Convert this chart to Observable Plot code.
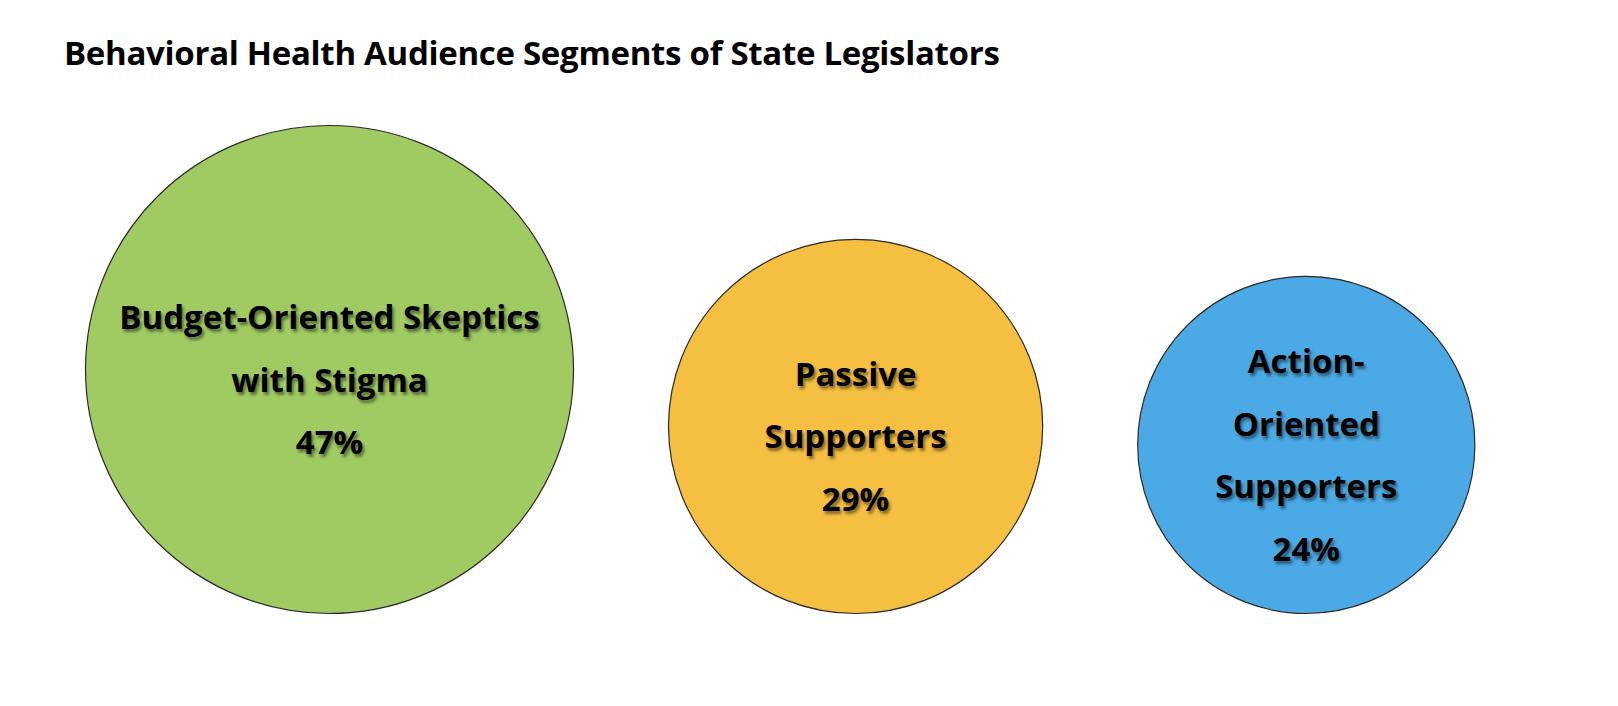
<!DOCTYPE html>
<html>
<head>
<meta charset="utf-8">
<script src="https://cdn.jsdelivr.net/npm/d3@7"></script>
<script src="https://cdn.jsdelivr.net/npm/@observablehq/plot@0.6"></script>
<style>
  html, body { margin: 0; padding: 0; background: #ffffff; }
  #title {
    font-family: "Open Sans", sans-serif;
    font-weight: 700;
    font-size: 33px;
    line-height: 33px;
    color: #000;
    padding: 36px 0 0 64px;
    height: 54px;
    letter-spacing: -0.3px;
  }
  #chart svg text { text-shadow: 2px 3px 3px rgba(0,0,0,0.45); }
</style>
</head>
<body>
<div id="title">Behavioral Health Audience Segments of State Legislators</div>
<div id="chart"></div>
<script>
// ---- data ----
const categories = ["Budget-Oriented Skeptics\nwith Stigma", "Passive\nSupporters", "Action-\nOriented\nSupporters"];
const values = [47, 29, 24];
const colors = ["#A0CB63", "#F5BF42", "#4BAAE5"];

// ---- layout (derived from data) ----
const W = 1618, H = 616;
const rExp = 0.55, rMax = 244;
const rScale = d3.scalePow().exponent(rExp).domain([0, d3.max(values)]).range([0, rMax]);
const startX = 85, gap = 95, baseY = 523;
let cursor = startX;
const rows = categories.map((c, i) => {
  const r = rScale(values[i]);
  const cx = cursor + r;
  cursor += 2 * r + gap;
  return {label: c, value: values[i], cx, cy: baseY - r};
});

const chart = Plot.plot({
  width: W,
  height: H,
  margin: 0,
  style: {fontFamily: "Open Sans", background: "#ffffff", overflow: "visible"},
  x: {domain: [0, W], range: [0, W], axis: null},
  y: {domain: [0, H], range: [0, H], axis: null},
  r: {type: "pow", exponent: rExp, domain: [0, d3.max(values)], range: [0, rMax]},
  color: {domain: categories, range: colors},
  marks: [
    Plot.dot(rows, {x: "cx", y: "cy", r: "value", fill: "label", fillOpacity: 1, stroke: "#2a2a2a", strokeWidth: 1.2}),
    Plot.text(rows, {
      x: "cx", y: "cy",
      text: d => d.label + "\n" + d.value + "%",
      fontSize: 33, fontWeight: "bold", lineHeight: 1.9, dy: 2, fill: "#000"
    })
  ]
});
document.getElementById("chart").appendChild(chart);
</script>
</body>
</html>
